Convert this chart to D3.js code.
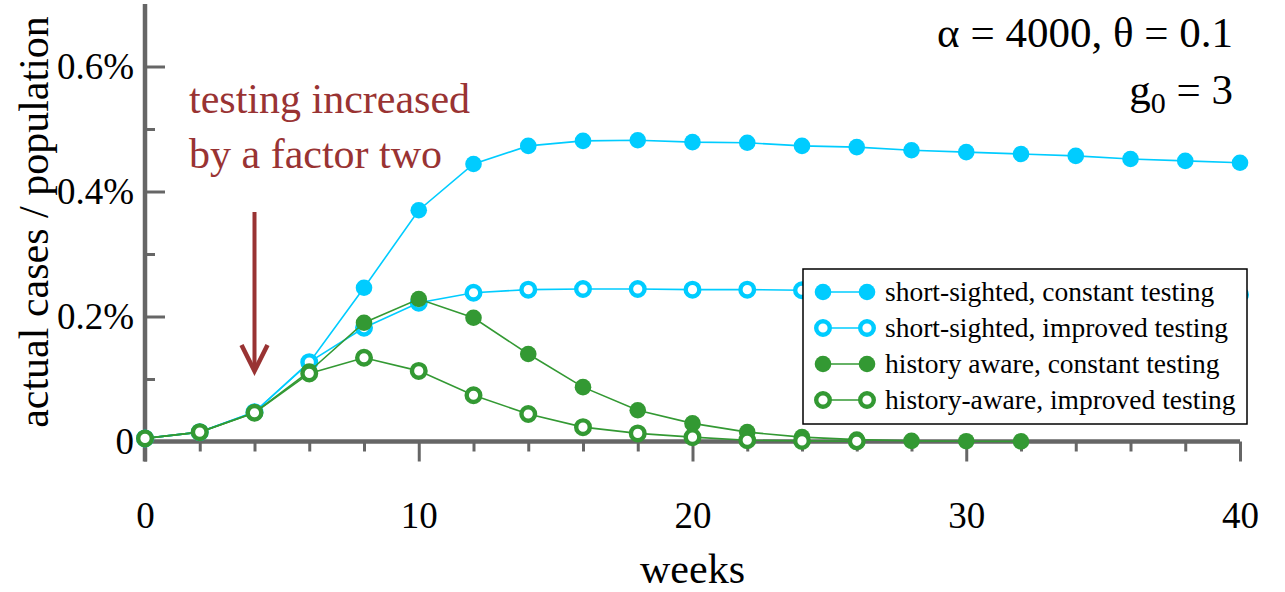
<!DOCTYPE html>
<html>
<head>
<meta charset="utf-8">
<script src="https://cdn.jsdelivr.net/npm/d3@7"></script>
<style>
  html, body { margin: 0; padding: 0; background: #fff; }
  svg { display: block; font-family: "Liberation Serif", "Times New Roman", serif; }
</style>
</head>
<body>
<svg id="chart" width="1285" height="592"></svg>
<script>
// ---------------- data ----------------
const weeks = [0,2,4,6,8,10,12,14,16,18,20,22,24,26,28,30,32,34,36,38,40];

const shortConstant = [0.005,0.015,0.047,0.126,0.246,0.370,0.444,0.473,0.481,0.482,0.479,0.478,0.473,0.471,0.466,0.463,0.460,0.457,0.452,0.449,0.446];
const shortImproved = [0.005,0.015,0.047,0.127,0.182,0.222,0.238,0.243,0.244,0.244,0.243,0.243,0.242,0.241,0.240,0.239,0.238,0.237,0.236,0.236,0.235];
const historyConstant = [0.005,0.015,0.046,0.112,0.190,0.228,0.198,0.140,0.087,0.050,0.029,0.015,0.007,0.003,0.001,0.0005,0.0002];
const historyImproved = [0.005,0.015,0.046,0.109,0.134,0.113,0.074,0.044,0.023,0.013,0.007,0.002,0.001,0.0003];

const seriesNames = [
  "short-sighted, constant testing",
  "short-sighted, improved testing",
  "history aware, constant testing",
  "history-aware, improved testing"
];

const xMajorTicks = [0,10,20,30,40];
const xMinorTicks = [2,4,6,8,12,14,16,18,22,24,26,28,32,34,36,38];
const xTickLabels = ["0","10","20","30","40"];
const yMajorTicks = [0,0.2,0.4,0.6];
const yMinorTicks = [0.1,0.3,0.5];
const yTickLabels = ["0","0.2%","0.4%","0.6%"];

const annotationLines = ["testing increased","by a factor two"];
const annotationWeek = 4;

// ---------------- styles ----------------
const CYAN = "#00ccff";
const GREEN = "#339933";
const AXIS = "#666666";
const RED = "#993333";

const series = [
  {name: seriesNames[0], values: shortConstant, color: CYAN, open: false},
  {name: seriesNames[1], values: shortImproved, color: CYAN, open: true},
  {name: seriesNames[2], values: historyConstant, color: GREEN, open: false},
  {name: seriesNames[3], values: historyImproved, color: GREEN, open: true}
];

const svg = d3.select("#chart");
const x = d3.scaleLinear().domain([0,40]).range([145,1240]);
const y = d3.scaleLinear().domain([0,0.6]).range([441.5,66.5]);

// ---------------- axes ----------------
const gx = svg.append("g").attr("transform", `translate(0,${y(0)})`);
gx.call(d3.axisBottom(x).tickValues(xMinorTicks).tickSize(10).tickFormat(""));
gx.call(g => g.select(".domain").remove());
const gx2 = svg.append("g").attr("transform", `translate(0,${y(0)})`);
gx2.call(d3.axisBottom(x).tickValues(xMajorTicks).tickSize(20).tickPadding(40)
  .tickFormat((d,i) => xTickLabels[i]));
gx2.call(g => g.select(".domain").remove());
[gx, gx2].forEach(g => {
  g.selectAll(".tick line").attr("stroke", AXIS).attr("stroke-width", 3);
  g.selectAll(".tick text").attr("font-size", 37).attr("fill", "#000")
    .attr("font-family", "Liberation Serif");
});

const gy = svg.append("g").attr("transform", `translate(${x(0)},0)`);
gy.call(d3.axisLeft(y).tickValues(yMinorTicks).tickSize(-10).tickFormat(""));
gy.call(g => g.select(".domain").remove());
const gy2 = svg.append("g").attr("transform", `translate(${x(0)},0)`);
gy2.call(d3.axisLeft(y).tickValues(yMajorTicks).tickSize(-20).tickPadding(11)
  .tickFormat((d,i) => yTickLabels[i]));
gy2.call(g => g.select(".domain").remove());
[gy, gy2].forEach(g => {
  g.selectAll(".tick line").attr("stroke", AXIS).attr("stroke-width", 3);
  g.selectAll(".tick text").attr("font-size", 37).attr("fill", "#000")
    .attr("font-family", "Liberation Serif");
});
gy2.selectAll(".tick").filter(d => d === 0).select("line").remove();

// axis lines
svg.append("line").attr("x1", x(0)).attr("x2", x(40)).attr("y1", y(0)).attr("y2", y(0))
  .attr("stroke", AXIS).attr("stroke-width", 4.5);
svg.append("line").attr("x1", x(0)).attr("x2", x(0)).attr("y1", y(0) + 20).attr("y2", y(0.7))
  .attr("stroke", AXIS).attr("stroke-width", 4.5);

// axis titles
svg.append("text").attr("x", (x(0)+x(40))/2).attr("y", 583).attr("text-anchor", "middle")
  .attr("font-size", 42).text("weeks");
svg.append("text").attr("transform", `translate(48,222) rotate(-90)`)
  .attr("text-anchor", "middle").attr("font-size", 42).text("actual cases / population");

// ---------------- series ----------------
const line = d3.line().x((d,i) => x(weeks[i])).y(d => y(d));
function marker(sel, s) {
  sel.attr("r", s.open ? 6.8 : 8.3)
    .attr("fill", s.open ? "#fff" : s.color)
    .attr("stroke", s.open ? s.color : "none")
    .attr("stroke-width", s.open ? 4.4 : 0);
}
series.forEach(s => {
  const g = svg.append("g");
  g.append("path").datum(s.values).attr("d", line).attr("fill", "none")
    .attr("stroke", s.color).attr("stroke-width", 1.6);
  g.selectAll("circle").data(s.values).join("circle")
    .attr("cx", (d,i) => x(weeks[i])).attr("cy", d => y(d))
    .call(marker, s);
});

// ---------------- annotation ----------------
const ann = svg.append("g").attr("fill", RED);
annotationLines.forEach((t, i) => {
  ann.append("text").attr("x", 189).attr("y", 113 + i * 55).attr("font-size", 42).text(t);
});
const ax = x(annotationWeek);
svg.append("line").attr("x1", ax).attr("x2", ax).attr("y1", 212).attr("y2", 368)
  .attr("stroke", RED).attr("stroke-width", 4);
svg.append("path").attr("d", `M${ax-13},${345} L${ax},${371} L${ax+13},${345}`)
  .attr("fill", "none").attr("stroke", RED).attr("stroke-width", 4.5);

// ---------------- parameters text ----------------
svg.append("text").attr("x", 1233).attr("y", 47).attr("text-anchor", "end")
  .attr("font-size", 43).text("α = 4000, θ = 0.1");
const gt = svg.append("text").attr("x", 1233).attr("y", 104).attr("text-anchor", "end")
  .attr("font-size", 43);
gt.append("tspan").text("g");
gt.append("tspan").attr("font-size", 30).attr("dy", 9).text("0");
gt.append("tspan").attr("dy", -9).text(" = 3");

// ---------------- legend ----------------
const lg = svg.append("g");
lg.append("rect").attr("x", 803).attr("y", 269).attr("width", 444).attr("height", 155)
  .attr("fill", "#fff").attr("stroke", "#000").attr("stroke-width", 1.5);
series.forEach((s, i) => {
  const cy = 292 + i * 36;
  lg.append("line").attr("x1", 823).attr("x2", 867).attr("y1", cy).attr("y2", cy)
    .attr("stroke", s.color).attr("stroke-width", 1.6);
  [823, 867].forEach(cx => {
    lg.append("circle").attr("cx", cx).attr("cy", cy).call(marker, s);
  });
  lg.append("text").attr("x", 885).attr("y", cy + 9).attr("font-size", 27.5).text(s.name);
});
</script>
</body>
</html>
